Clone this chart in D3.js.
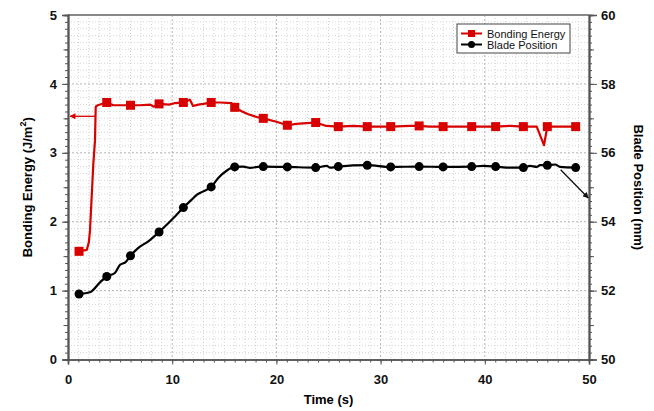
<!DOCTYPE html>
<html>
<head>
<meta charset="utf-8">
<script src="https://cdn.jsdelivr.net/npm/d3@7"></script>
<style>
  body { margin: 0; background: #fff; }
  svg { display: block; font-family: "Liberation Sans", Arial, sans-serif; }
</style>
</head>
<body>
<svg id="chart" width="654" height="411"></svg>
<script>
// Bonding energy curve (J/m2) against time (s)
const energyTime  = [1.06, 1.8, 2.0, 2.11, 2.43, 2.59, 2.66, 2.85, 3.72, 4.35, 6.0, 6.9, 7.9, 8.2, 8.74, 9.7, 10.2, 11.07, 11.7, 12.0, 12.5, 13.0, 13.74, 14.6, 15.7, 16.0, 16.7, 17.3, 18.1, 18.74, 20.0, 21.05, 21.9, 22.9, 23.77, 24.8, 25.94, 27.4, 28.72, 30.97, 32.8, 33.3, 33.7, 34.7, 36.0, 38.74, 41.04, 42.4, 43.7, 44.98, 45.68, 46.0, 48.72];
const energyValue = [1.57, 1.59, 1.7, 1.87, 2.84, 3.18, 3.67, 3.69, 3.73, 3.69, 3.69, 3.69, 3.70, 3.67, 3.71, 3.70, 3.72, 3.73, 3.77, 3.68, 3.70, 3.71, 3.73, 3.73, 3.72, 3.66, 3.60, 3.56, 3.52, 3.50, 3.45, 3.40, 3.42, 3.43, 3.44, 3.39, 3.38, 3.39, 3.38, 3.38, 3.39, 3.39, 3.39, 3.38, 3.38, 3.38, 3.38, 3.39, 3.38, 3.38, 3.11, 3.38, 3.38];

// Blade position curve (mm) against time (s)
const bladeTime  = [1.06, 2.1, 3.07, 3.72, 4.5, 5.0, 5.5, 6.0, 6.75, 7.71, 8.74, 9.47, 10.27, 11.07, 11.87, 12.35, 12.98, 13.74, 14.42, 15.22, 16.0, 16.83, 17.47, 18.43, 18.74, 21.05, 23.77, 24.83, 25.14, 25.94, 28.72, 30.97, 33.7, 36.0, 38.74, 39.86, 41.04, 42.42, 43.7, 44.34, 44.98, 45.3, 46.0, 46.74, 47.22, 48.72];
const bladeValue = [51.90, 51.95, 52.24, 52.41, 52.51, 52.75, 52.82, 53.01, 53.24, 53.43, 53.70, 53.91, 54.15, 54.41, 54.64, 54.78, 54.88, 55.01, 55.27, 55.48, 55.59, 55.60, 55.56, 55.60, 55.60, 55.59, 55.57, 55.62, 55.57, 55.60, 55.64, 55.59, 55.60, 55.59, 55.60, 55.62, 55.60, 55.57, 55.57, 55.62, 55.59, 55.64, 55.64, 55.66, 55.59, 55.57];

// times at which symbols are drawn on both curves
const markerTime = [1.06, 3.72, 6.0, 8.74, 11.07, 13.74, 16.0, 18.74, 21.05, 23.77, 25.94, 28.72, 30.97, 33.7, 36.0, 38.74, 41.04, 43.7, 46.0, 48.72];

// annotation arrows: [time, value] start and end
const energyArrow = [[2.6, 3.53], [0.2, 3.53]];
const bladeArrow  = [[47.28, 55.51], [49.93, 54.69]];

const xTicks = [0, 10, 20, 30, 40, 50];
const energyTicks = [0, 1, 2, 3, 4, 5];
const bladeTicks = [50, 52, 54, 56, 58, 60];
const seriesNames = ["Bonding Energy", "Blade Position"];

const red = "#d90000";
const svg = d3.select("#chart");
const pLeft = 68, pRight = 589, pTop = 15, pBottom = 359.5;

const x = d3.scaleLinear().domain([0, 50]).range([pLeft, pRight]);
const yE = d3.scaleLinear().domain([0, 5]).range([pBottom, pTop]);
const yB = d3.scaleLinear().domain([50, 60]).range([pBottom, pTop]);

// grid
const grid = svg.append("g");
grid.selectAll(".vg").data(d3.range(1, 50)).enter().append("line")
  .attr("x1", d => x(d)).attr("x2", d => x(d)).attr("y1", pTop).attr("y2", pBottom)
  .attr("stroke", d => d % 10 == 0 ? "#b5b5b5" : "#d4d4d4")
  .attr("stroke-dasharray", d => d % 10 == 0 ? "2,2" : "1,2");
grid.selectAll(".hg").data(d3.range(1, 50)).enter().append("line")
  .attr("y1", d => yE(d / 10)).attr("y2", d => yE(d / 10)).attr("x1", pLeft).attr("x2", pRight)
  .attr("stroke", d => d % 10 == 0 ? "#b5b5b5" : "#d4d4d4")
  .attr("stroke-dasharray", d => d % 10 == 0 ? "2,2" : "1,2");

// frame
svg.append("line").attr("x1", pLeft).attr("x2", pRight).attr("y1", pTop).attr("y2", pTop)
  .attr("stroke", "#888").attr("stroke-width", 2);

// axes
const tickStyle = g => {
  g.selectAll(".domain").attr("stroke", "#555").attr("stroke-width", 1.6);
  g.selectAll(".tick line").attr("stroke", "#555");
  g.selectAll("text").attr("font-weight", "bold").attr("font-size", 13).attr("fill", "#111");
};
function minor(axisFn, scale, step, size) {
  const [a, b] = scale.domain();
  return axisFn(scale).tickValues(d3.range(a, b + step / 2, step)).tickSize(size).tickFormat("");
}

const xAxisG = svg.append("g").attr("transform", `translate(0,${pBottom})`);
xAxisG.call(minor(d3.axisBottom, x, 1, 3)).call(tickStyle);
xAxisG.append("g").call(d3.axisBottom(x).tickValues(xTicks).tickFormat(d3.format("d")).tickSize(5).tickPadding(10)).call(tickStyle);

const yEG = svg.append("g").attr("transform", `translate(${pLeft},0)`);
yEG.call(minor(d3.axisLeft, yE, 0.1, 3)).call(tickStyle);
yEG.append("g").call(minor(d3.axisLeft, yE, 0.5, 4.5)).call(tickStyle);
yEG.append("g").call(d3.axisLeft(yE).tickValues(energyTicks).tickFormat(d3.format("d")).tickSize(6).tickPadding(5)).call(tickStyle);

const yBG = svg.append("g").attr("transform", `translate(${pRight},0)`);
yBG.call(minor(d3.axisRight, yB, 0.2, 3)).call(tickStyle);
yBG.append("g").call(minor(d3.axisRight, yB, 1, 5)).call(tickStyle);
yBG.append("g").call(d3.axisRight(yB).tickValues(bladeTicks).tickFormat(d3.format("d")).tickSize(8).tickPadding(4)).call(tickStyle);

// axis titles
svg.append("text").attr("x", (pLeft + pRight) / 2).attr("y", 404).attr("text-anchor", "middle")
  .attr("font-weight", "bold").attr("font-size", 13).text("Time (s)");
const lt = svg.append("text").attr("transform", `translate(32,${(pTop + pBottom) / 2}) rotate(-90)`)
  .attr("text-anchor", "middle").attr("font-weight", "bold").attr("font-size", 13);
lt.append("tspan").text("Bonding Energy (J/m");
lt.append("tspan").attr("dy", -6).attr("font-size", 9).text("2");
lt.append("tspan").attr("dy", 6).text(")");
svg.append("text").attr("transform", `translate(634,${(pTop + pBottom) / 2}) rotate(90)`)
  .attr("text-anchor", "middle").attr("font-weight", "bold").attr("font-size", 13)
  .text("Blade Position (mm)");

// arrows
const defs = svg.append("defs");
[["arR", red], ["arK", "#111"]].forEach(([id, c]) => {
  defs.append("marker").attr("id", id).attr("viewBox", "0 0 10 10").attr("refX", 9).attr("refY", 5)
    .attr("markerWidth", 7).attr("markerHeight", 6).attr("orient", "auto")
    .attr("markerUnits", "userSpaceOnUse")
    .append("path").attr("d", "M0,0L10,5L0,10z").attr("fill", c);
});
svg.append("line")
  .attr("x1", x(energyArrow[0][0])).attr("y1", yE(energyArrow[0][1]))
  .attr("x2", x(energyArrow[1][0])).attr("y2", yE(energyArrow[1][1]))
  .attr("stroke", red).attr("stroke-width", 1.3).attr("marker-end", "url(#arR)");
svg.append("line")
  .attr("x1", x(bladeArrow[0][0])).attr("y1", yB(bladeArrow[0][1]))
  .attr("x2", x(bladeArrow[1][0])).attr("y2", yB(bladeArrow[1][1]))
  .attr("stroke", "#111").attr("stroke-width", 1.3).attr("marker-end", "url(#arK)");

// curves
const energyData = energyTime.map((t, i) => ({ t: t, v: energyValue[i] }));
const bladeData = bladeTime.map((t, i) => ({ t: t, v: bladeValue[i] }));

svg.append("path").datum(energyData)
  .attr("d", d3.line().x(d => x(d.t)).y(d => yE(d.v)))
  .attr("fill", "none").attr("stroke", red).attr("stroke-width", 2.2).attr("stroke-linejoin", "round");
svg.append("path").datum(bladeData)
  .attr("d", d3.line().curve(d3.curveMonotoneX).x(d => x(d.t)).y(d => yB(d.v)))
  .attr("fill", "none").attr("stroke", "#000").attr("stroke-width", 2.2).attr("stroke-linejoin", "round");

svg.selectAll(".sq").data(energyData.filter(d => markerTime.includes(d.t))).enter().append("rect")
  .attr("x", d => x(d.t) - 4.5).attr("y", d => yE(d.v) - 4.5)
  .attr("width", 9).attr("height", 9).attr("fill", red);
svg.selectAll(".ci").data(bladeData.filter(d => markerTime.includes(d.t))).enter().append("circle")
  .attr("cx", d => x(d.t)).attr("cy", d => yB(d.v)).attr("r", 4.5).attr("fill", "#000");

// legend
const lg = svg.append("g").attr("transform", "translate(457,24)");
lg.append("rect").attr("width", 113).attr("height", 29).attr("fill", "#fff")
  .attr("stroke", "#444").attr("stroke-width", 1);
seriesNames.forEach((name, i) => {
  const yy = 9.5 + i * 11;
  const c = i == 0 ? red : "#000";
  lg.append("line").attr("x1", 4).attr("x2", 25).attr("y1", yy).attr("y2", yy)
    .attr("stroke", c).attr("stroke-width", 2);
  if (i == 0) lg.append("rect").attr("x", 11).attr("y", yy - 3.5).attr("width", 7).attr("height", 7).attr("fill", c);
  else lg.append("circle").attr("cx", 14.5).attr("cy", yy).attr("r", 3.5).attr("fill", c);
  lg.append("text").attr("x", 30).attr("y", yy + 4).attr("font-size", 11).attr("fill", "#111").text(name);
});
</script>
</body>
</html>
